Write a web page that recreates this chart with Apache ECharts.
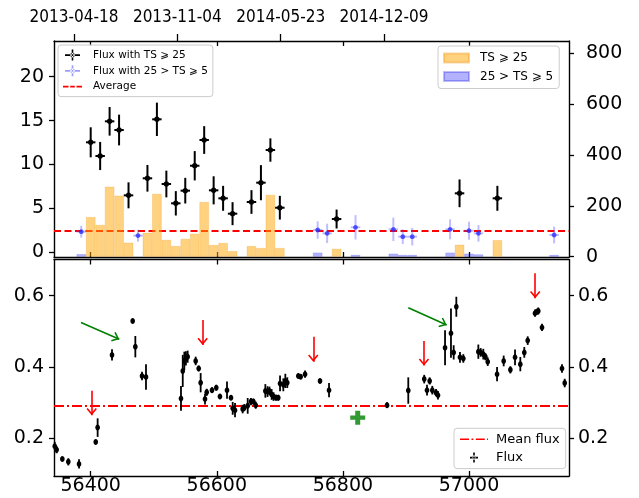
<!DOCTYPE html>
<html>
<head>
<meta charset="utf-8">
<script src="https://cdn.jsdelivr.net/npm/echarts@6/dist/echarts.min.js"></script>
<style>
  html, body { margin: 0; padding: 0; background: #ffffff; }
  #chart { width: 639px; height: 498px; }
</style>
</head>
<body>
<div id="chart"></div>
<script>
// ---- Tick labels ----
const mjdTicks = [56400, 56600, 56800, 57000];
const dateLabels = ['2013-04-18', '2013-11-04', '2014-05-23', '2014-12-09'];
const fluxTicksTop = [0, 5, 10, 15, 20];
const countTicks = [0, 200, 400, 600, 800];
const fluxTicksBottom = [0.2, 0.4, 0.6];

// ---- 15-day binned flux, TS >= 25 (MJD, flux, 1-sigma error) ----
const binHalfWidth = 7.5;
const topHiMjd  = [56400, 56415, 56430, 56445, 56460, 56490, 56505, 56520, 56535, 56550, 56565,
                   56580, 56595, 56610, 56625, 56655, 56670, 56685, 56700, 56790, 56985, 57045];
const topHiFlux = [12.53, 10.97, 14.92, 13.93, 6.49, 8.43, 15.15, 7.78, 5.58, 7.02, 9.86,
                   12.79, 7.06, 6.15, 4.40, 5.73, 7.93, 11.65, 5.08, 3.79, 6.72, 6.15];
const topHiErr  = [1.71, 1.60, 1.63, 1.75, 1.48, 1.52, 1.90, 1.52, 1.39, 1.46, 1.67,
                   1.58, 1.60, 1.42, 1.31, 1.35, 2.00, 1.33, 1.35, 1.08, 1.58, 1.42];

// ---- 15-day binned flux, 25 > TS >= 5 ----
const topLoMjd  = [56385, 56475, 56760, 56775, 56820, 56880, 56895, 56910, 56970, 57000, 57015, 57135];
const topLoFlux = [2.35, 1.90, 2.54, 2.16, 2.85, 2.62, 1.78, 1.78, 2.62, 2.46, 2.16, 1.97];
const topLoErr  = [0.67, 0.67, 0.99, 1.10, 1.39, 1.33, 0.84, 1.00, 1.14, 1.03, 0.95, 0.95];
const averageFlux = 2.45;

// ---- Histogram per bin (right axis) ----
const binHiMjd   = [56400, 56415, 56430, 56445, 56460, 56490, 56505, 56520, 56535, 56550, 56565,
                    56580, 56595, 56610, 56625, 56655, 56670, 56685, 56700, 56790, 56985, 57045];
const binHiCount = [156, 125, 275, 240, 55, 94, 247, 66, 42, 70, 90,
                    215, 46, 54, 22, 42, 34, 243, 34, 31, 47, 65];
const binLoMjd   = [56385, 56760, 56820, 56880, 56895, 56910, 56970, 57000, 57015, 57135];
const binLoCount = [10, 16, 7, 12, 7, 7, 16, 12, 9, 7];

// ---- Optical light curve (MJD, flux, error) ----
const lcMjd = [56343, 56346, 56355, 56364.5, 56381.5, 56408, 56411, 56433.8, 56466.6, 56470.8,
  56481.4, 56487.7, 56543.2, 56546, 56548.5, 56551, 56553.8, 56566.5, 56571.3, 56574.4,
  56581.3, 56584, 56592.4, 56599.2, 56605, 56616.2, 56622.5, 56625.2, 56628.9, 56641,
  56643.6, 56649, 56654.2, 56658, 56661.7, 56677, 56680.5, 56683.5, 56687, 56690,
  56694, 56697.5, 56700.3, 56705.5, 56708.7, 56711.8, 56729.3, 56733, 56740, 56763.7,
  56778, 56870, 56903.7, 56929, 56933.4, 56937.6, 56941.8, 56947.7, 56950.8, 56962,
  56971.4, 56975.7, 56979.9, 56985.7, 56991, 57014.8, 57018.5, 57022.7, 57026, 57029.7,
  57044.5, 57055, 57065.6, 57073, 57081.4, 57087.7, 57093.1, 57104.7, 57107.5, 57109.9,
  57115.8, 57147.5, 57151.8];
const lcFlux = [0.178, 0.168, 0.142, 0.134, 0.128, 0.190, 0.230, 0.434, 0.529, 0.457,
  0.375, 0.372, 0.312, 0.389, 0.417, 0.424, 0.429, 0.417, 0.396, 0.356,
  0.310, 0.329, 0.335, 0.342, 0.317, 0.335, 0.314, 0.284, 0.279, 0.282,
  0.286, 0.291, 0.303, 0.303, 0.293, 0.333, 0.331, 0.333, 0.323, 0.317,
  0.314, 0.314, 0.354, 0.350, 0.361, 0.356, 0.375, 0.373, 0.380, 0.361,
  0.335, 0.293, 0.334, 0.366, 0.335, 0.361, 0.335, 0.328, 0.321, 0.454,
  0.495, 0.441, 0.569, 0.427, 0.424, 0.443, 0.441, 0.436, 0.429, 0.415,
  0.380, 0.417, 0.392, 0.427, 0.408, 0.441, 0.474, 0.551, 0.555, 0.557,
  0.511, 0.396, 0.355];
const lcErr = [0.012, 0.010, 0.005, 0.010, 0.013, 0.006, 0.026, 0.016, 0.006, 0.030,
  0.012, 0.036, 0.035, 0.045, 0.026, 0.020, 0.017, 0.012, 0.008, 0.027,
  0.015, 0.010, 0.008, 0.008, 0.006, 0.024, 0.006, 0.018, 0.020, 0.012,
  0.010, 0.022, 0.010, 0.008, 0.010, 0.019, 0.015, 0.012, 0.015, 0.012,
  0.008, 0.008, 0.022, 0.018, 0.020, 0.015, 0.006, 0.005, 0.010, 0.006,
  0.020, 0.008, 0.037, 0.012, 0.015, 0.010, 0.012, 0.010, 0.012, 0.049,
  0.069, 0.020, 0.028, 0.015, 0.012, 0.020, 0.012, 0.015, 0.010, 0.012,
  0.020, 0.015, 0.010, 0.022, 0.020, 0.015, 0.012, 0.010, 0.008, 0.010,
  0.010, 0.012, 0.012];
const lcTimeErr = 1.5;
const meanFlux = 0.29;

// Special epoch (green cross)
const specialMjd = [56823.5];
const specialFlux = [0.258];

// Annotation arrows: start and tip in (MJD, flux)
const redArrowMjd   = [56401.6, 56577.6, 56753.0, 56928.6, 57105.0];
const redArrowFrom  = [0.3335, 0.532, 0.485, 0.473, 0.663];
const redArrowTo    = [0.265, 0.462, 0.415, 0.404, 0.593];
const greenArrowFromMjd = [56384.6, 56903.7];
const greenArrowFromFlux = [0.525, 0.566];
const greenArrowToMjd = [56445.4, 56964.6];
const greenArrowToFlux = [0.478, 0.518];

// ---- Styling ----
const FONT = "'DejaVu Sans', sans-serif";
const COND_FONT = "'DejaVu Sans Condensed', 'DejaVu Sans', sans-serif";
const X_MIN = 56341.8, X_MAX = 57158.6;
const DATE_MIN = 56361.3, DATE_MAX = 57358.0;
const ORANGE = 'rgba(255,165,0,0.5)';
const BLUE = 'rgba(0,0,255,0.3)';

const chevron = 'path://M5,-7.2 M5,0 L10.2,6.2 L9,7.2 L5,2.4 L1,7.2 L-0.2,6.2 Z';
const crossIcon = 'path://M0,0 M19,11 M2,4.8h15v1.6h-15z M8.7,0h1.6v11h-1.6z M11.8,5.6a2.3,2.3 0 1,0 -4.6,0a2.3,2.3 0 1,0 4.6,0z';
const dashIcon = 'path://M0,0 M19,11 M0,4.7h5.5v1.8h-5.5z M7.2,4.7h4.6v1.8h-4.6z M13.5,4.7h5.5v1.8h-5.5z';
const dashDotIcon = 'path://M0,0 M28,10 M0,4.2h9v1.6h-9z M11.5,4.2h1.8v1.6h-1.8z M15.8,4.2h9v1.6h-9z M27,4.2h1v1.6h-1z';
const fluxIcon = 'path://M0,0 M28,10 M10,4.2h8v1.6h-8z M13.2,0h1.6v10h-1.6z M15.5,5a1.5,2.4 0 1,0 -3,0a1.5,2.4 0 1,0 3,0z';
const plusSymbol = 'path://M5,0h5v5h5v4.5h-5v5h-5v-5h-5v-4.5h5z';

function errorBars(o) {
  return function (params, api) {
    const x = api.value(0), y = api.value(1), xe = api.value(2), ye = api.value(3);
    const p = api.coord([x, y]);
    const yTop = api.coord([x, y + ye])[1];
    const yBot = api.coord([x, y - ye])[1];
    const xL = api.coord([x - xe, y])[0];
    const xR = api.coord([x + xe, y])[0];
    return {
      type: 'group',
      children: [
        { type: 'line', shape: { x1: p[0], y1: yTop, x2: p[0], y2: yBot }, style: { stroke: o.bar, lineWidth: o.width } },
        { type: 'line', shape: { x1: xL, y1: p[1], x2: xR, y2: p[1] }, style: { stroke: o.bar, lineWidth: o.width } },
        { type: 'ellipse', shape: { cx: p[0], cy: p[1], rx: o.rx, ry: o.ry }, style: { fill: o.dot } }
      ]
    };
  };
}

const topHiData = topHiMjd.map((m, i) => [m, topHiFlux[i], binHalfWidth, topHiErr[i]]);
const topLoData = topLoMjd.map((m, i) => [m, topLoFlux[i], binHalfWidth, topLoErr[i]]);
const binHiData = binHiMjd.map((m, i) => [m, binHiCount[i]]);
const binLoData = binLoMjd.map((m, i) => [m, binLoCount[i]]);
const lcData = lcMjd.map((m, i) => [m, lcFlux[i], lcTimeErr, lcErr[i]]);
const specialData = specialMjd.map((m, i) => [m, specialFlux[i]]);

const arrowLines = [];
redArrowMjd.forEach((m, i) => {
  arrowLines.push([
    { coord: [m, redArrowFrom[i]], symbol: 'none' },
    { coord: [m, redArrowTo[i]], symbol: chevron, symbolSize: [10.4, 14.4] }
  ]);
});
const arrowRed = arrowLines.slice();
const arrowGreen = greenArrowFromMjd.map((m, i) => [
  { coord: [m, greenArrowFromFlux[i]], symbol: 'none' },
  { coord: [greenArrowToMjd[i], greenArrowToFlux[i]], symbol: chevron, symbolSize: [10.4, 14.4] }
]);

const axisLine = { show: true, onZero: false, lineStyle: { color: '#000', width: 1.4 } };
const tickStyle = { color: '#000', width: 1.3 };
const tickLabel = { color: '#000', fontFamily: FONT, fontSize: 19 };

const chart = echarts.init(document.getElementById('chart'), null, { renderer: 'canvas' });

chart.setOption({
  animation: false,
  backgroundColor: '#ffffff',
  grid: [
    { left: 54, top: 41, width: 515, height: 216 },
    { left: 54, top: 259.5, width: 515, height: 216.5 }
  ],
  xAxis: [
    // top panel, bottom edge
    { type: 'value', gridIndex: 0, position: 'bottom', min: X_MIN, max: X_MAX,
      axisLine: axisLine, splitLine: { show: false },
      axisTick: { show: true, inside: true, length: 5, lineStyle: tickStyle, customValues: mjdTicks },
      axisLabel: { show: false } },
    // top panel, calendar dates above
    { type: 'value', gridIndex: 0, position: 'top', min: DATE_MIN, max: DATE_MAX,
      axisLine: { show: false, onZero: false }, splitLine: { show: false },
      axisTick: { show: true, inside: false, length: 7, lineStyle: tickStyle, customValues: mjdTicks },
      axisLabel: { show: true, margin: 15, color: '#000', fontFamily: COND_FONT, fontSize: 17,
        customValues: mjdTicks, formatter: v => dateLabels[mjdTicks.indexOf(v)] } },
    // top panel, top edge (inner MJD ticks)
    { type: 'value', gridIndex: 0, position: 'top', min: X_MIN, max: X_MAX,
      axisLine: axisLine, splitLine: { show: false },
      axisTick: { show: true, inside: true, length: 5, lineStyle: tickStyle, customValues: mjdTicks },
      axisLabel: { show: false } },
    // bottom panel, MJD labels
    { type: 'value', gridIndex: 1, position: 'bottom', min: X_MIN, max: X_MAX,
      axisLine: axisLine, splitLine: { show: false },
      axisTick: { show: true, inside: true, length: 5, lineStyle: tickStyle, customValues: mjdTicks },
      axisLabel: Object.assign({ show: true, margin: 1, customValues: mjdTicks, formatter: v => String(v) }, tickLabel) },
    // bottom panel, top edge
    { type: 'value', gridIndex: 1, position: 'top', min: X_MIN, max: X_MAX,
      axisLine: axisLine, splitLine: { show: false },
      axisTick: { show: true, inside: true, length: 5, lineStyle: tickStyle, customValues: mjdTicks },
      axisLabel: { show: false } }
  ],
  yAxis: [
    { type: 'value', gridIndex: 0, position: 'left', min: -0.535, max: 24.07,
      axisLine: axisLine, splitLine: { show: false },
      axisTick: { show: true, inside: false, length: 5, lineStyle: tickStyle, customValues: fluxTicksTop },
      axisLabel: Object.assign({ margin: 10, customValues: fluxTicksTop, formatter: v => String(v) }, tickLabel) },
    { type: 'value', gridIndex: 0, position: 'right', min: -1.2, max: 848,
      axisLine: axisLine, splitLine: { show: false },
      axisTick: { show: true, inside: false, length: 5, lineStyle: tickStyle, customValues: countTicks },
      axisLabel: Object.assign({ margin: 17, customValues: countTicks, formatter: v => String(v) }, tickLabel) },
    { type: 'value', gridIndex: 1, position: 'left', min: 0.0943, max: 0.7015,
      axisLine: axisLine, splitLine: { show: false },
      axisTick: { show: true, inside: false, length: 5, lineStyle: tickStyle, customValues: fluxTicksBottom },
      axisLabel: Object.assign({ margin: 10, customValues: fluxTicksBottom, formatter: v => v.toFixed(1) }, tickLabel) },
    { type: 'value', gridIndex: 1, position: 'right', min: 0.0943, max: 0.7015,
      axisLine: axisLine, splitLine: { show: false },
      axisTick: { show: true, inside: false, length: 5, lineStyle: tickStyle, customValues: fluxTicksBottom },
      axisLabel: Object.assign({ margin: 9, customValues: fluxTicksBottom, formatter: v => v.toFixed(1) }, tickLabel) }
  ],
  legend: [
    {
      orient: 'vertical', left: 58, top: 45, padding: [3.5, 5, 3.5, 5], itemGap: 2.8,
      itemWidth: 19, itemHeight: 11, selectedMode: false,
      backgroundColor: 'rgba(255,255,255,0.8)', borderColor: '#cccccc', borderWidth: 1, borderRadius: 3,
      textStyle: { fontFamily: FONT, fontSize: 10.5, color: '#000', lineHeight: 13, padding: [0, 0, 0, 6] },
      data: [
        { name: 'Flux with TS ⩾ 25', icon: crossIcon, itemStyle: { color: '#000' } },
        { name: 'Flux with 25 > TS ⩾ 5', icon: crossIcon, itemStyle: { color: 'rgba(90,90,255,0.6)' } },
        { name: 'Average', icon: dashIcon, itemStyle: { color: '#ff0000' } }
      ]
    },
    {
      orient: 'vertical', left: 438, top: 46, padding: [5, 6, 5, 5], itemGap: 4.5,
      itemWidth: 25, itemHeight: 9, selectedMode: false,
      backgroundColor: 'rgba(255,255,255,0.8)', borderColor: '#cccccc', borderWidth: 1, borderRadius: 3,
      textStyle: { fontFamily: FONT, fontSize: 12, color: '#000', lineHeight: 14, padding: [0, 0, 0, 6] },
      data: [
        { name: 'TS ⩾ 25', icon: 'rect', itemStyle: { color: ORANGE } },
        { name: '25 > TS ⩾ 5', icon: 'rect', itemStyle: { color: BLUE } }
      ]
    },
    {
      orient: 'vertical', left: 454, top: 428.3, padding: [4, 6, 4, 6], itemGap: 4.3,
      itemWidth: 28, itemHeight: 10, selectedMode: false,
      backgroundColor: 'rgba(255,255,255,0.8)', borderColor: '#cccccc', borderWidth: 1, borderRadius: 3,
      textStyle: { fontFamily: FONT, fontSize: 13, color: '#000', lineHeight: 14, padding: [0, 0, 0, 3] },
      data: [
        { name: 'Mean flux', icon: dashDotIcon, itemStyle: { color: '#ff0000' } },
        { name: 'Flux', icon: fluxIcon, itemStyle: { color: '#000' } }
      ]
    }
  ],
  series: [
    // average level of the binned flux
    { name: 'Average', type: 'line', xAxisIndex: 0, yAxisIndex: 0, data: [], z: 2,
      itemStyle: { color: '#ff0000' },
      markLine: { silent: true, z: 2, symbol: 'none', label: { show: false },
        lineStyle: { color: '#ff0000', width: 2, type: [7, 3.5] },
        data: [{ yAxis: averageFlux }] } },
    // histogram, TS >= 25
    { name: 'TS ⩾ 25', type: 'bar', xAxisIndex: 0, yAxisIndex: 1, data: binHiData, z: 4,
      barWidth: 9.46, barGap: '-100%', silent: true,
      itemStyle: { color: ORANGE, borderColor: 'rgba(235,140,0,0.35)', borderWidth: 0.6 } },
    // histogram, 25 > TS >= 5
    { name: '25 > TS ⩾ 5', type: 'bar', xAxisIndex: 0, yAxisIndex: 1, data: binLoData, z: 4,
      barWidth: 9.46, barGap: '-100%', silent: true,
      itemStyle: { color: BLUE, borderColor: 'rgba(0,0,220,0.25)', borderWidth: 0.6 } },
    // binned flux points
    { name: 'Flux with 25 > TS ⩾ 5', type: 'custom', xAxisIndex: 0, yAxisIndex: 0, z: 5,
      itemStyle: { color: 'rgba(90,90,255,0.6)' }, encode: { x: 0, y: 1 }, data: topLoData, silent: true,
      renderItem: errorBars({ bar: 'rgba(70,70,255,0.35)', width: 2, dot: 'rgba(40,40,255,0.75)', rx: 2.4, ry: 2.4 }) },
    { name: 'Flux with TS ⩾ 25', type: 'custom', xAxisIndex: 0, yAxisIndex: 0, z: 6,
      itemStyle: { color: '#000' }, encode: { x: 0, y: 1 }, data: topHiData, silent: true,
      renderItem: errorBars({ bar: '#000', width: 2, dot: '#000', rx: 2.8, ry: 2.8 }) },
    // light curve panel
    { name: 'Mean flux', type: 'line', xAxisIndex: 3, yAxisIndex: 2, data: [], z: 2,
      itemStyle: { color: '#ff0000' },
      markLine: { silent: true, z: 2, symbol: 'none', label: { show: false },
        lineStyle: { color: '#ff0000', width: 1.8, type: [10, 3, 2, 3] },
        data: [{ yAxis: meanFlux }] } },
    { name: 'Flux', type: 'custom', xAxisIndex: 3, yAxisIndex: 2, z: 5,
      itemStyle: { color: '#000' }, encode: { x: 0, y: 1 }, data: lcData, silent: true,
      renderItem: errorBars({ bar: '#000', width: 1.8, dot: '#000', rx: 2.3, ry: 3 }) },
    { name: 'special', type: 'scatter', xAxisIndex: 3, yAxisIndex: 2, z: 6, data: specialData,
      symbol: plusSymbol, symbolSize: [15, 14], itemStyle: { color: '#008000' }, silent: true },
    // annotation arrows
    { name: 'arrowsRed', type: 'line', xAxisIndex: 3, yAxisIndex: 2, data: [], z: 7,
      markLine: { silent: true, z: 7, label: { show: false },
        lineStyle: { color: '#ff0000', width: 1.6, type: 'solid' },
        itemStyle: { color: '#ff0000' }, data: arrowRed } },
    { name: 'arrowsGreen', type: 'line', xAxisIndex: 3, yAxisIndex: 2, data: [], z: 7,
      markLine: { silent: true, z: 7, label: { show: false },
        lineStyle: { color: '#008000', width: 1.6, type: 'solid' },
        itemStyle: { color: '#008000' }, data: arrowGreen } }
  ]
});
</script>
</body>
</html>
